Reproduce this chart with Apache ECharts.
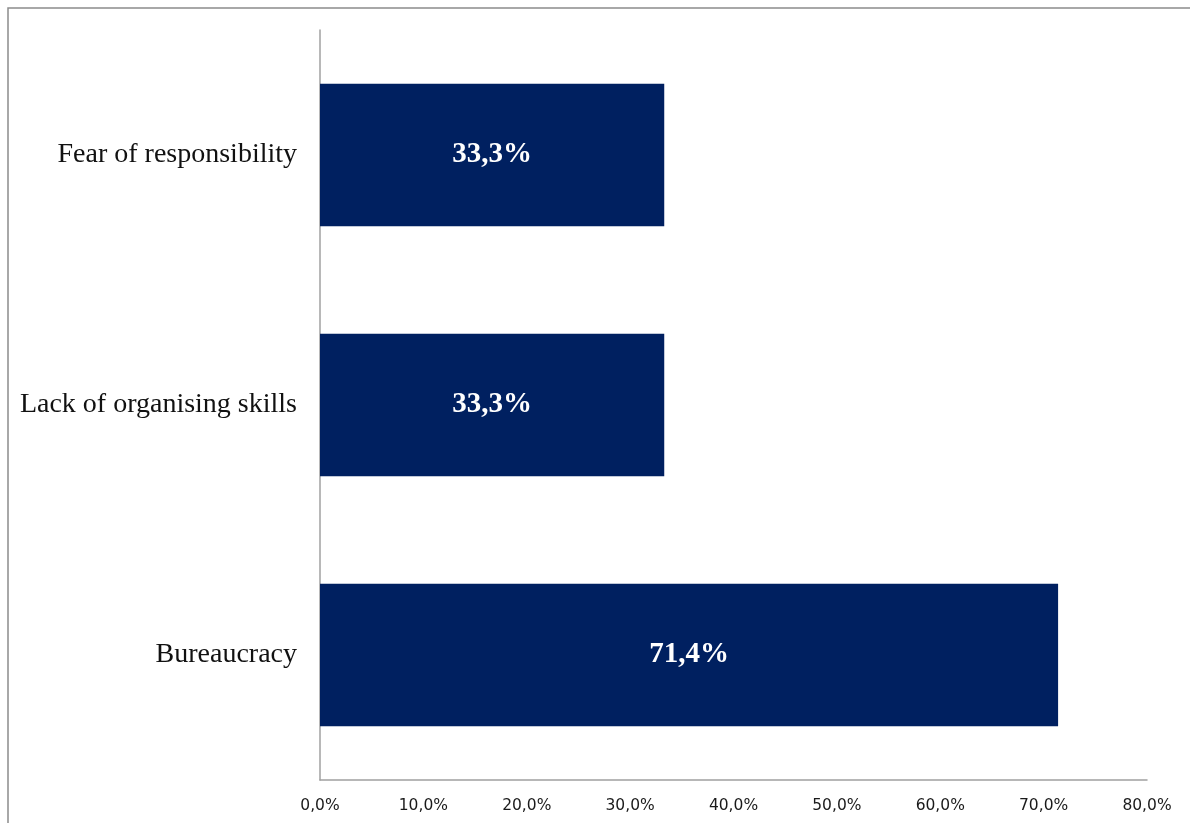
<!DOCTYPE html>
<html>
<head>
<meta charset="utf-8">
<script src="https://cdn.jsdelivr.net/npm/echarts@6/dist/echarts.min.js"></script>
<style>html,body{margin:0;padding:0;background:#fff;}#c{width:1190px;height:823px;}</style>
</head>
<body>
<div id="c"></div>
<script>
const categories = ['Bureaucracy', 'Lack of organising skills', 'Fear of responsibility'];
const values = [71.4, 33.3, 33.3];
const axisMin = 0, axisMax = 80, axisStep = 10;

const fmt = v => v.toFixed(1).replace('.', ',') + '%';

const chart = echarts.init(document.getElementById('c'), null, {renderer: 'canvas'});
chart.setOption({
  backgroundColor: '#ffffff',
  animation: false,
  graphic: [{
    type: 'rect', silent: true, z: -1,
    shape: {x: 8, y: 8, width: 1400, height: 1000},
    style: {fill: 'none', stroke: '#8c8c8c', lineWidth: 1.5}
  }],
  grid: {left: 320, right: 43, top: 30, bottom: 43, containLabel: false},
  xAxis: {
    type: 'value', min: axisMin, max: axisMax, interval: axisStep,
    axisLine: {show: true, lineStyle: {color: '#a0a0a0', width: 1.5}},
    axisTick: {show: false},
    splitLine: {show: false},
    axisLabel: {
      formatter: v => fmt(v), margin: 18,
      fontFamily: 'DejaVu Sans', fontSize: 15.5, color: '#1a1a1a'
    }
  },
  yAxis: {
    type: 'category', data: categories,
    axisLine: {show: true, lineStyle: {color: '#a0a0a0', width: 1.5}},
    axisTick: {show: false},
    axisLabel: {
      margin: 23, fontFamily: 'Liberation Serif', fontSize: 28, color: '#111'
    }
  },
  series: [{
    type: 'bar', data: values, barCategoryGap: '43%',
    itemStyle: {color: '#002060'},
    label: {
      show: true, position: 'inside', formatter: p => fmt(p.value),
      fontFamily: 'Liberation Serif', fontWeight: 'bold', fontSize: 29, color: '#ffffff'
    }
  }]
});
</script>
</body>
</html>
